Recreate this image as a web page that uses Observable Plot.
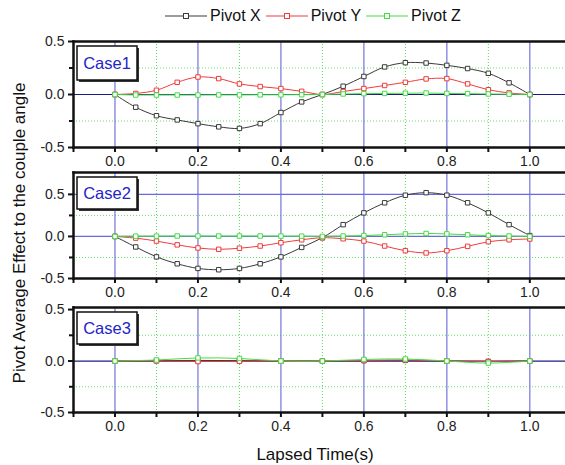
<!DOCTYPE html>
<html><head><meta charset="utf-8">
<script src="https://cdn.jsdelivr.net/npm/d3@7"></script>
<script src="https://cdn.jsdelivr.net/npm/@observablehq/plot@0.6"></script>
<style>
body{margin:0;background:#fff;font-family:"Liberation Sans",Arial,sans-serif;}
#wrap{position:relative;width:565px;height:465px;overflow:hidden;background:#fff;}
.panel{position:absolute;left:0;}
#legend{position:absolute;top:6px;left:165px;display:flex;align-items:center;font-size:16px;color:#111;height:20px;white-space:nowrap;}
#legend span{margin-left:3px;margin-right:5px;}
#ylab{position:absolute;left:20px;top:233px;transform:translate(-50%,-50%) rotate(-90deg);font-size:17px;color:#111;white-space:nowrap;}
#xlab{position:absolute;left:315px;top:455px;transform:translate(-50%,-50%);font-size:17px;color:#111;white-space:nowrap;}
</style></head><body><div id="wrap">
<div id="legend"></div>
<div id="ylab">Pivot Average Effect to the couple angle</div>
<div id="xlab">Lapsed Time(s)</div>
</div>
<script>
// ---- data ----
const seriesNames = ["Pivot X", "Pivot Y", "Pivot Z"];
const seriesColors = ["#3a3a3a", "#f03c3c", "#44dd44"];
const caseNames = ["Case1", "Case2", "Case3"];

const timeFine = [0, 0.05, 0.1, 0.15, 0.2, 0.25, 0.3, 0.35, 0.4, 0.45, 0.5, 0.55, 0.6, 0.65, 0.7, 0.75, 0.8, 0.85, 0.9, 0.95, 1.0];
const timeCoarse = [0, 0.1, 0.2, 0.3, 0.4, 0.5, 0.6, 0.7, 0.8, 0.9, 1.0];

const case1X = [0, -0.12, -0.20, -0.24, -0.275, -0.305, -0.32, -0.275, -0.17, -0.07, 0, 0.078, 0.17, 0.26, 0.30, 0.297, 0.275, 0.245, 0.20, 0.11, 0];
const case1Y = [0, 0.01, 0.04, 0.115, 0.165, 0.15, 0.10, 0.075, 0.056, 0.03, 0, 0.028, 0.056, 0.085, 0.115, 0.147, 0.15, 0.10, 0.045, 0.015, 0];
const case1Z = [0, -0.005, -0.005, -0.005, -0.005, -0.004, -0.004, -0.003, -0.003, -0.002, 0, 0.005, 0.008, 0.01, 0.012, 0.014, 0.01, 0.008, 0.005, 0.003, 0];

const case2X = [0, -0.125, -0.243, -0.325, -0.38, -0.396, -0.38, -0.325, -0.243, -0.13, -0.015, 0.14, 0.28, 0.40, 0.49, 0.52, 0.49, 0.40, 0.28, 0.14, 0.01];
const case2Y = [0, -0.02, -0.055, -0.10, -0.137, -0.153, -0.14, -0.114, -0.075, -0.04, -0.015, -0.028, -0.055, -0.114, -0.17, -0.196, -0.17, -0.118, -0.063, -0.04, -0.03];
const case2Z = [0, 0.003, 0.004, 0.005, 0.005, 0.005, 0.005, 0.005, 0.004, 0.003, 0, 0.005, 0.01, 0.02, 0.03, 0.035, 0.03, 0.02, 0.01, 0.005, 0];

const case3X = [0, 0.004, 0.006, 0.004, 0, 0, 0.004, 0.006, 0, -0.004, 0];
const case3Y = [0, 0, -0.005, -0.003, 0, 0, 0.005, 0.01, 0, -0.005, 0];
const case3Z = [0, 0.01, 0.03, 0.025, 0, 0, 0.015, 0.02, 0, -0.02, 0];

const xDomain = [-0.1, 1.086];
const xMajorTicks = [0, 0.2, 0.4, 0.6, 0.8, 1.0];
const xMinorTicks = [-0.1, 0.1, 0.3, 0.5, 0.7, 0.9];
const yMajorTicks = [-0.5, 0, 0.5];
const yMinorTicks = [-0.25, 0.25];

// ---- legend ----
const legend = document.getElementById("legend");
seriesNames.forEach((name, i) => {
  const sw = d3.create("svg").attr("width", 42).attr("height", 10);
  sw.append("line").attr("x1", 0).attr("x2", 42).attr("y1", 5).attr("y2", 5)
    .attr("stroke", seriesColors[i]).attr("stroke-width", 1.2);
  sw.append("rect").attr("x", 18.5).attr("y", 2.5).attr("width", 5).attr("height", 5)
    .attr("fill", "white").attr("stroke", seriesColors[i]).attr("stroke-width", 1);
  legend.appendChild(sw.node());
  const s = document.createElement("span");
  s.textContent = name;
  legend.appendChild(s);
});

// ---- panels ----
function makePanel({top, mt, h, yDomain, blueRules, zeroColor, times, values, caseName, boxTop, boxH}) {
  const mb = 30;
  const rows = [];
  values.forEach((arr, si) => arr.forEach((v, j) => rows.push({t: times[j], v, s: seriesNames[si]})));
  const seriesMarks = [];
  seriesNames.forEach((name, si) => {
    const d = rows.filter(r => r.s === name);
    seriesMarks.push(Plot.line(d, {x: "t", y: "v", stroke: seriesColors[si], strokeWidth: 1, curve: "catmull-rom"}));
    seriesMarks.push(Plot.dot(d, {x: "t", y: "v", symbol: "square", r: 2.5, fill: "white", stroke: seriesColors[si], strokeWidth: 1}));
  });
  const box = () => {
    const g = d3.create("svg:g");
    const bx = 77, bw = 60, by = mt + boxTop;
    g.append("rect").attr("x", bx + 2).attr("y", by + 2).attr("width", bw).attr("height", boxH).attr("fill", "#333");
    g.append("rect").attr("x", bx).attr("y", by).attr("width", bw).attr("height", boxH)
      .attr("fill", "white").attr("stroke", "#111").attr("stroke-width", 1.5);
    g.append("text").attr("x", bx + bw / 2).attr("y", by + boxH / 2).attr("text-anchor", "middle")
      .attr("dominant-baseline", "central").attr("fill", "#2424c8").attr("font-size", 16.5)
      .attr("font-family", '"Liberation Sans", Arial, sans-serif').text(caseName);
    return g.node();
  };
  const plot = Plot.plot({
    width: 565, height: mt + h + mb,
    marginLeft: 73, marginRight: 0, marginTop: mt, marginBottom: mb,
    x: {domain: xDomain},
    y: {domain: yDomain},
    style: {background: "transparent", overflow: "visible", fontFamily: '"Liberation Sans", Arial, sans-serif', fontSize: "14px", color: "#222"},
    marks: [
      Plot.ruleX(xMinorTicks, {stroke: "#55d855", strokeDasharray: "1,2", strokeWidth: 1}),
      Plot.ruleY(yMinorTicks, {stroke: "#66dd66", strokeDasharray: "1,2", strokeWidth: 1}),
      Plot.ruleX(xMajorTicks, {stroke: "#7474dc", strokeWidth: 1.2}),
      Plot.ruleY(blueRules, {stroke: "#6a6ae0", strokeWidth: 1.2}),
      Plot.ruleY([0], {stroke: zeroColor, strokeWidth: 1.2}),
      box,
      ...seriesMarks,
      Plot.axisX(xMajorTicks, {tickSize: 5, tickPadding: 4, strokeWidth: 2, stroke: "#111", tickFormat: d => d.toFixed(1), label: null, fontSize: 14, fill: "#222"}),
      Plot.axisX(xMinorTicks, {tickSize: 5, strokeWidth: 2, stroke: "#111", tickFormat: () => "", label: null}),
      Plot.axisY(yMajorTicks, {tickSize: 5, tickPadding: 4, strokeWidth: 2, stroke: "#111", tickFormat: d => d.toFixed(1), label: null, fontSize: 14, fill: "#222"}),
      Plot.axisY(yMinorTicks, {tickSize: 4, strokeWidth: 2, stroke: "#111", tickFormat: () => "", label: null}),
      Plot.frame({anchor: "top", stroke: "#111", strokeWidth: 2.5}),
      Plot.frame({anchor: "bottom", stroke: "#111", strokeWidth: 2.5}),
      Plot.frame({anchor: "left", stroke: "#111", strokeWidth: 2.5})
    ]
  });
  plot.classList.add("panel");
  plot.style.top = top + "px";
  document.getElementById("wrap").appendChild(plot);
}

makePanel({top: 30, mt: 11, h: 106, yDomain: [-0.5, 0.5], blueRules: [], zeroColor: "#1c1c88",
  times: timeFine, values: [case1X, case1Y, case1Z], caseName: caseNames[0], boxTop: 5, boxH: 34});
makePanel({top: 160, mt: 12, h: 106, yDomain: [-0.5, 0.76], blueRules: [0.5], zeroColor: "#6a6ae0",
  times: timeFine, values: [case2X, case2Y, case2Z], caseName: caseNames[1], boxTop: 5, boxH: 32});
makePanel({top: 297, mt: 10, h: 105, yDomain: [-0.5, 0.52], blueRules: [], zeroColor: "#1c1c88",
  times: timeCoarse, values: [case3X, case3Y, case3Z], caseName: caseNames[2], boxTop: 5, boxH: 32});
</script></body></html>
